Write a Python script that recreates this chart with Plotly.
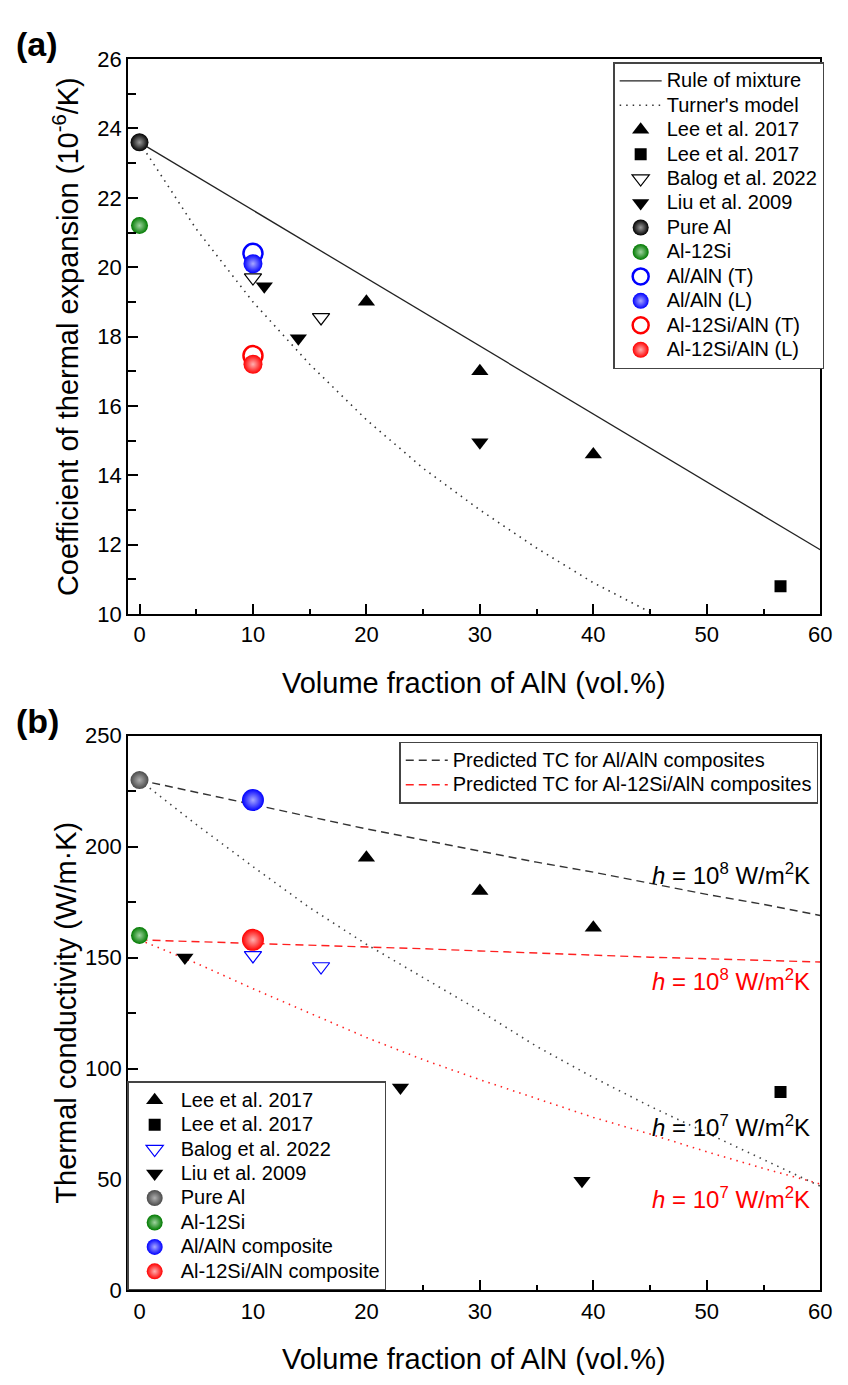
import plotly.graph_objects as go

FONT = "Liberation Sans, Arial, sans-serif"

# ---------------- (a) coefficient of thermal expansion ----------------
rom_x = [0, 60]
rom_cte = [23.6, 11.85]
turner_x = [0, 5, 10, 15, 20, 25, 30, 35, 40, 45.3]
turner_cte = [23.6, 21.1, 19.0, 17.2, 15.6, 14.2, 13.0, 11.9, 10.9, 10.0]

lee_tri_x = [20, 30, 40]
lee_tri_cte = [19.0, 17.0, 14.6]
lee_sq_x = [56.5]
lee_sq_cte = [10.8]
balog_x_a = [10, 16]
balog_cte = [19.7, 18.55]
liu_x_a = [11, 14, 30]
liu_cte = [19.45, 17.95, 14.95]

pure_al_x = [0]
pure_al_cte = [23.6]
al12si_x = [0]
al12si_cte = [21.2]
comp_x = [10]
alaln_t_cte = [20.4]
alaln_l_cte = [20.1]
sialn_t_cte = [17.45]
sialn_l_cte = [17.2]

# ---------------- (b) thermal conductivity ----------------
pred_x = [0, 5, 10, 15, 20, 25, 30, 35, 40, 45, 50, 55, 60]
pred_alaln_h8 = [230, 224.5, 219, 213.5, 208, 203, 198, 193, 188.5, 183.5, 178.5, 174, 169]
pred_alaln_h7 = [230, 210, 191, 172.5, 156, 141, 126, 110, 96, 83, 71, 59, 47]
pred_sialn_h8 = [158, 157.2, 156.5, 155.7, 155, 154, 153, 152, 151, 150.2, 149.5, 148.7, 148]
pred_sialn_h7 = [158, 147.5, 136, 125, 114, 104, 95, 86.5, 78, 70.5, 62.5, 55, 48]

lee_tri_tc = [195, 180, 163.5]
lee_sq_tc = [89.5]
balog_x_b = [10, 16]
balog_tc = [151, 146]
liu_x_b = [4, 23, 39]
liu_tc = [150, 91.5, 49.5]
pure_al_tc = [230]
al12si_tc = [160]
alaln_tc = [221]
sialn_tc = [158]

fig = go.Figure()


def lbl(text):
    # legend entries are drawn a little larger than the row pitch
    return '<span style="font-size:20px">' + text + "</span>"


def sphere(x, y, name, color, shine, size, xa, ya, legend, show=True):
    fig.add_trace(go.Scatter(
        x=x, y=y, mode="markers", name=lbl(name), xaxis=xa, yaxis=ya, legend=legend,
        showlegend=show,
        marker=dict(symbol="circle", size=size, color=color,
                    gradient=dict(type="radial", color=shine),
                    line=dict(width=0))))


def sym(x, y, name, symbol, color, size, xa, ya, legend, lw=0):
    fig.add_trace(go.Scatter(
        x=x, y=y, mode="markers", name=lbl(name), xaxis=xa, yaxis=ya, legend=legend,
        marker=dict(symbol=symbol, size=size, color=color,
                    line=dict(width=lw, color=color))))


def curve(x, y, name, color, dash, width, xa, ya, legend, show=True):
    fig.add_trace(go.Scatter(
        x=x, y=y, mode="lines", name=lbl(name), xaxis=xa, yaxis=ya, legend=legend,
        showlegend=show, line=dict(color=color, dash=dash, width=width)))


# panel (a)
curve(rom_x, rom_cte, "Rule of mixture", "#222222", "solid", 1.3, "x", "y", "legend")
curve(turner_x, turner_cte, "Turner's model", "#333333", "1.5px,5px", 1.6, "x", "y", "legend")
sym(lee_tri_x, lee_tri_cte, "Lee et al. 2017", "triangle-up", "black", 15, "x", "y", "legend")
sym(lee_sq_x, lee_sq_cte, "Lee et al. 2017", "square", "black", 12, "x", "y", "legend")
sym(balog_x_a, balog_cte, "Balog et al. 2022", "triangle-down-open", "black", 15, "x", "y", "legend", lw=1.2)
sym(liu_x_a, liu_cte, "Liu et al. 2009", "triangle-down", "black", 15, "x", "y", "legend")
sphere(pure_al_x, pure_al_cte, "Pure Al", "#000000", "#9a9a9a", 18, "x", "y", "legend")
sphere(al12si_x, al12si_cte, "Al-12Si", "#007a00", "#9fd39f", 17, "x", "y", "legend")
sym(comp_x, alaln_t_cte, "Al/AlN (T)", "circle-open", "#0000ff", 19, "x", "y", "legend", lw=2.5)
sphere(comp_x, alaln_l_cte, "Al/AlN (L)", "#0000ff", "#a8a8ff", 19, "x", "y", "legend")
sym(comp_x, sialn_t_cte, "Al-12Si/AlN (T)", "circle-open", "#ff0000", 19, "x", "y", "legend", lw=2.5)
sphere(comp_x, sialn_l_cte, "Al-12Si/AlN (L)", "#ff0000", "#ffb0b0", 19, "x", "y", "legend")

# panel (b)
curve(pred_x, pred_alaln_h8, "Predicted TC for Al/AlN composites", "#333333", "8px,5px", 1.4, "x2", "y2", "legend2")
curve(pred_x, pred_sialn_h8, "Predicted TC for Al-12Si/AlN composites", "#ff2020", "8px,5px", 1.4, "x2", "y2", "legend2")
curve(pred_x, pred_alaln_h7, "h7 Al/AlN", "#444444", "1.5px,5px", 1.6, "x2", "y2", "legend2", show=False)
curve(pred_x, pred_sialn_h7, "h7 Al-12Si/AlN", "#ff2020", "1.5px,5px", 1.6, "x2", "y2", "legend2", show=False)

sym(lee_tri_x, lee_tri_tc, "Lee et al. 2017", "triangle-up", "black", 15, "x2", "y2", "legend3")
sym(lee_sq_x, lee_sq_tc, "Lee et al. 2017", "square", "black", 12, "x2", "y2", "legend3")
sym(balog_x_b, balog_tc, "Balog et al. 2022", "triangle-down-open", "#0000ff", 15, "x2", "y2", "legend3", lw=1.2)
sym(liu_x_b, liu_tc, "Liu et al. 2009", "triangle-down", "black", 15, "x2", "y2", "legend3")
sphere(pure_al_x, pure_al_tc, "Pure Al", "#4a4a4a", "#b0b0b0", 18, "x2", "y2", "legend3")
sphere(al12si_x, al12si_tc, "Al-12Si", "#007a00", "#9fd39f", 17, "x2", "y2", "legend3")
sphere(comp_x, alaln_tc, "Al/AlN composite", "#0000ff", "#a8a8ff", 22, "x2", "y2", "legend3")
sphere(comp_x, sialn_tc, "Al-12Si/AlN composite", "#ff0000", "#ffb0b0", 22, "x2", "y2", "legend3")

W, H = 848, 1385
xdom = [130 / W, 832 / W]
ydom_a = [1 - 613 / H, 1 - 48 / H]
ydom_b = [1 - 1302 / H, 1 - 737 / H]

tickfont = dict(family=FONT, size=22, color="black")


def xaxis_cfg(anchor):
    return dict(domain=xdom, anchor=anchor, range=[-1, 60], dtick=10, tick0=0,
                ticks="inside", ticklen=10, tickwidth=2, tickcolor="black",
                minor=dict(dtick=5, tick0=0, ticks="inside", ticklen=5, tickwidth=2, tickcolor="black"),
                showline=True, linewidth=2, linecolor="black", mirror=True,
                showgrid=False, zeroline=False, tickfont=tickfont)


def yaxis_cfg(anchor, dom, rng, dtick, minor):
    return dict(domain=dom, anchor=anchor, range=rng, dtick=dtick, tick0=0,
                ticks="inside", ticklen=10, tickwidth=2, tickcolor="black",
                minor=dict(dtick=minor, tick0=0, ticks="inside", ticklen=8, tickwidth=2, tickcolor="black"),
                showline=True, linewidth=2, linecolor="black", mirror=True,
                showgrid=False, zeroline=False, tickfont=tickfont)


def legend_cfg(x, y, xanchor, yanchor):
    return dict(x=x, y=y, xanchor=xanchor, yanchor=yanchor,
                font=dict(family=FONT, size=16.5, color="black"),
                bgcolor="white", bordercolor="#444444", borderwidth=1.5,
                tracegroupgap=0, itemwidth=42)


fig.update_layout(
    width=W, height=H, margin=dict(l=0, r=0, t=0, b=0),
    paper_bgcolor="white", plot_bgcolor="white",
    font=dict(family=FONT, color="black"),
    xaxis=xaxis_cfg("y"),
    yaxis=yaxis_cfg("x", ydom_a, [10, 26], 2, 1),
    xaxis2=xaxis_cfg("y2"),
    yaxis2=yaxis_cfg("x2", ydom_b, [0, 250], 50, 25),
    legend=legend_cfg(836 / W, 1 - 51 / H, "right", "top"),
    legend2=legend_cfg(830 / W, 1 - 743 / H, "right", "top"),
    legend3=legend_cfg(129 / W, 1 - 1302 / H, "left", "bottom"),
)

title_font = dict(family=FONT, size=29, color="black")


def note(text, px, py, font, angle=0):
    return dict(text=text, x=px / W, y=1 - py / H, xref="paper", yref="paper",
                xanchor="center", yanchor="middle", textangle=angle,
                showarrow=False, font=font)


panel_font = dict(family=FONT, size=34, color="black")
ann = [
    note("<b>(a)</b>", 38, 33, panel_font),
    note("<b>(b)</b>", 38, 722, panel_font),
    note("Coefficient of thermal expansion (10<sup>-6</sup>/K)", 67, 331, title_font, -90),
    note("Thermal conductivity (W/m·K)", 67, 1019, title_font, -90),
    note("Volume fraction of AlN (vol.%)", 481, 683, title_font),
    note("Volume fraction of AlN (vol.%)", 481, 1372, title_font),
]

hfont_k = dict(family=FONT, size=24, color="black")
hfont_r = dict(family=FONT, size=24, color="#ff0000")
for label, yv, f in [("<i>h</i> = 10<sup>8</sup> W/m<sup>2</sup>K", 187.5, hfont_k),
                     ("<i>h</i> = 10<sup>8</sup> W/m<sup>2</sup>K", 140, hfont_r),
                     ("<i>h</i> = 10<sup>7</sup> W/m<sup>2</sup>K", 74, hfont_k),
                     ("<i>h</i> = 10<sup>7</sup> W/m<sup>2</sup>K", 41.5, hfont_r)]:
    ann.append(dict(text=label, x=59.3, y=yv, xref="x2", yref="y2", xanchor="right",
                    yanchor="middle", showarrow=False, font=f))

fig.update_layout(annotations=ann)

fig.write_html("out.html")
